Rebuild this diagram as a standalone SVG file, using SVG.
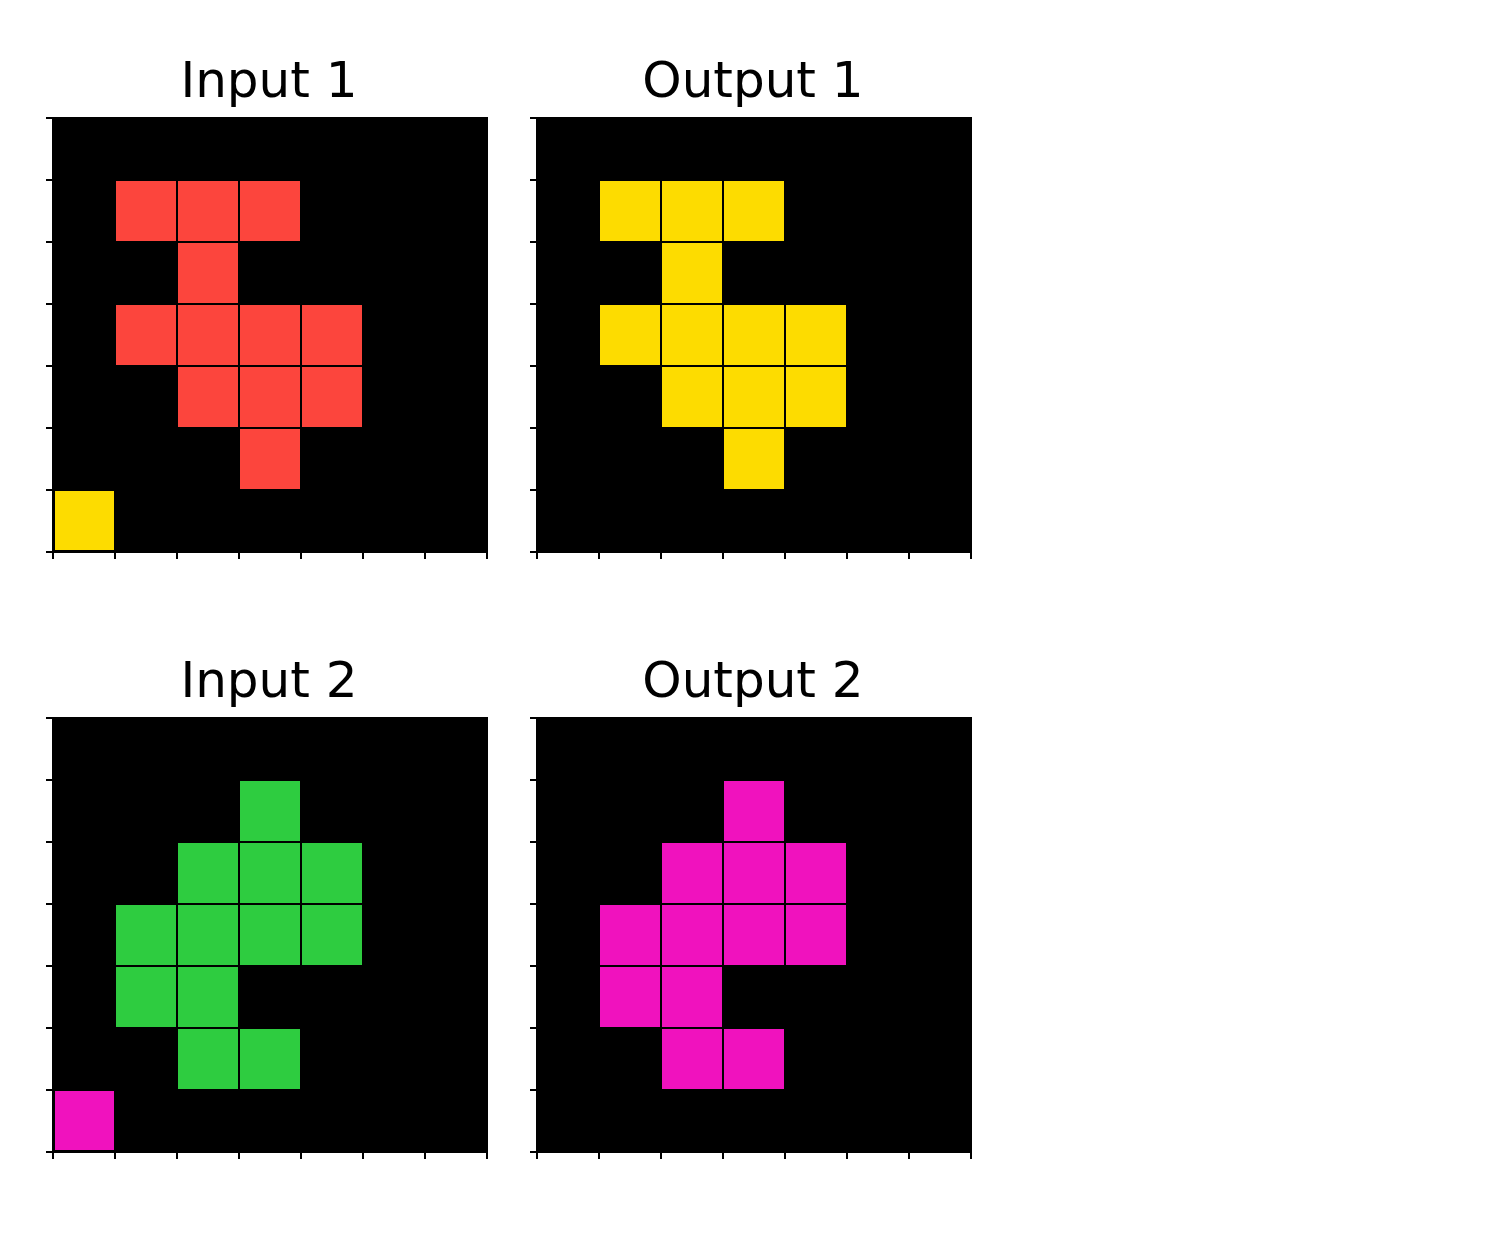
<svg xmlns="http://www.w3.org/2000/svg" width="1500" height="1259" viewBox="0 0 1500 1259">
<style>
.t{font-family:"DejaVu Sans",sans-serif;font-size:50px;fill:#000;text-anchor:middle}
.bg{fill:#000}
.c{stroke:#000;stroke-width:2}
.r{fill:#FC453D}.y{fill:#FDDC00}.g{fill:#2ECC40}.m{fill:#F012BE}
.tk{stroke:#000;stroke-width:2}
</style>
<defs>
<g id="ticks">
<path class="tk" d="M-7,0H0M-7,62H0M-7,124H0M-7,186H0M-7,248H0M-7,310H0M-7,372H0M-7,434H0M0,434V441M62,434V441M124,434V441M186,434V441M248,434V441M310,434V441M372,434V441M434,434V441"/>
</g>
</defs>
<rect width="1500" height="1259" fill="#fff"/>
<g id="input1">
<text class="t" x="269" y="97">Input 1</text>
<g transform="translate(53,118)">
<rect class="bg" x="-1" y="-1" width="436" height="436"/>
<rect class="c r" x="62" y="62" width="62" height="62"/><rect class="c r" x="124" y="62" width="62" height="62"/><rect class="c r" x="186" y="62" width="62" height="62"/>
<rect class="c r" x="124" y="124" width="62" height="62"/>
<rect class="c r" x="62" y="186" width="62" height="62"/><rect class="c r" x="124" y="186" width="62" height="62"/><rect class="c r" x="186" y="186" width="62" height="62"/><rect class="c r" x="248" y="186" width="62" height="62"/>
<rect class="c r" x="124" y="248" width="62" height="62"/><rect class="c r" x="186" y="248" width="62" height="62"/><rect class="c r" x="248" y="248" width="62" height="62"/>
<rect class="c r" x="186" y="310" width="62" height="62"/>
<rect class="c y" x="1" y="372" width="61" height="61"/>
<use href="#ticks"/>
</g>
</g>
<g id="output1">
<text class="t" x="753" y="97">Output 1</text>
<g transform="translate(537,118)">
<rect class="bg" x="-1" y="-1" width="436" height="436"/>
<rect class="c y" x="62" y="62" width="62" height="62"/><rect class="c y" x="124" y="62" width="62" height="62"/><rect class="c y" x="186" y="62" width="62" height="62"/>
<rect class="c y" x="124" y="124" width="62" height="62"/>
<rect class="c y" x="62" y="186" width="62" height="62"/><rect class="c y" x="124" y="186" width="62" height="62"/><rect class="c y" x="186" y="186" width="62" height="62"/><rect class="c y" x="248" y="186" width="62" height="62"/>
<rect class="c y" x="124" y="248" width="62" height="62"/><rect class="c y" x="186" y="248" width="62" height="62"/><rect class="c y" x="248" y="248" width="62" height="62"/>
<rect class="c y" x="186" y="310" width="62" height="62"/>
<use href="#ticks"/>
</g>
</g>
<g id="input2">
<text class="t" x="269" y="697">Input 2</text>
<g transform="translate(53,718)">
<rect class="bg" x="-1" y="-1" width="436" height="436"/>
<rect class="c g" x="186" y="62" width="62" height="62"/>
<rect class="c g" x="124" y="124" width="62" height="62"/><rect class="c g" x="186" y="124" width="62" height="62"/><rect class="c g" x="248" y="124" width="62" height="62"/>
<rect class="c g" x="62" y="186" width="62" height="62"/><rect class="c g" x="124" y="186" width="62" height="62"/><rect class="c g" x="186" y="186" width="62" height="62"/><rect class="c g" x="248" y="186" width="62" height="62"/>
<rect class="c g" x="62" y="248" width="62" height="62"/><rect class="c g" x="124" y="248" width="62" height="62"/>
<rect class="c g" x="124" y="310" width="62" height="62"/><rect class="c g" x="186" y="310" width="62" height="62"/>
<rect class="c m" x="1" y="372" width="61" height="61"/>
<use href="#ticks"/>
</g>
</g>
<g id="output2">
<text class="t" x="753" y="697">Output 2</text>
<g transform="translate(537,718)">
<rect class="bg" x="-1" y="-1" width="436" height="436"/>
<rect class="c m" x="186" y="62" width="62" height="62"/>
<rect class="c m" x="124" y="124" width="62" height="62"/><rect class="c m" x="186" y="124" width="62" height="62"/><rect class="c m" x="248" y="124" width="62" height="62"/>
<rect class="c m" x="62" y="186" width="62" height="62"/><rect class="c m" x="124" y="186" width="62" height="62"/><rect class="c m" x="186" y="186" width="62" height="62"/><rect class="c m" x="248" y="186" width="62" height="62"/>
<rect class="c m" x="62" y="248" width="62" height="62"/><rect class="c m" x="124" y="248" width="62" height="62"/>
<rect class="c m" x="124" y="310" width="62" height="62"/><rect class="c m" x="186" y="310" width="62" height="62"/>
<use href="#ticks"/>
</g>
</g>
<g id="connectors"/>
</svg>
